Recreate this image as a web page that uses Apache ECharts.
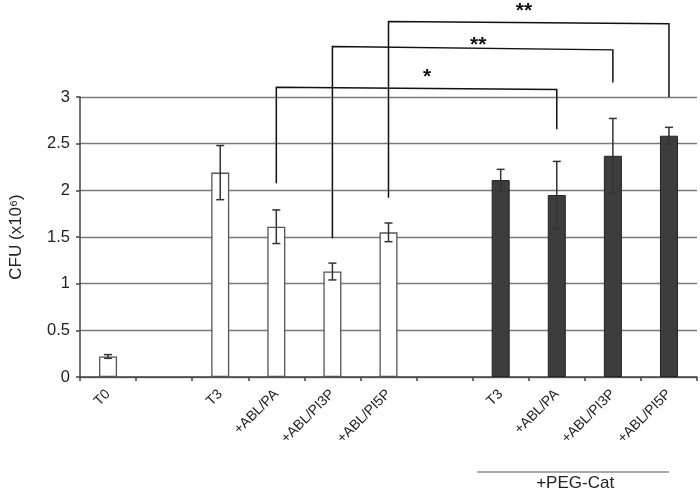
<!DOCTYPE html>
<html>
<head>
<meta charset="utf-8">
<script src="https://cdn.jsdelivr.net/npm/echarts@6/dist/echarts.min.js"></script>
<style>html,body{margin:0;padding:0;background:#fff}#c{width:700px;height:491px}</style>
</head>
<body>
<div id="c"></div>
<script>
// ---- data ----
var categories = ['T0', '', 'T3', '+ABL/PA', '+ABL/PI3P', '+ABL/PI5P', '', 'T3', '+ABL/PA', '+ABL/PI3P', '+ABL/PI5P'];
var controlValues = [0.22, null, 2.19, 1.61, 1.13, 1.55, null, null, null, null, null];
var controlErrors = [0.02, null, 0.29, 0.18, 0.09, 0.10, null, null, null, null, null];
var pegCatValues = [null, null, null, null, null, null, null, 2.11, 1.95, 2.37, 2.585];
var pegCatErrors = [null, null, null, null, null, null, null, 0.115, 0.36, 0.40, 0.09];
var yTicks = [0, 0.5, 1, 1.5, 2, 2.5, 3];
// significance brackets
var bracketFrom = [3, 4, 5];
var bracketTo = [8, 9, 10];
var bracketFromBottom = [2.075, 1.486, 1.92];
var bracketToBottom = [2.655, 3.155, 3.0];
var bracketTopLeft = [3.105, 3.54, 3.81];
var bracketTopRight = [3.08, 3.505, 3.785];
var bracketStarY = [3.27, 3.61, 3.975];
var bracketStarT = [0.538, 0.52, 0.483];
var bracketLabels = ['*', '**', '**'];
var groupLabel = '+PEG-Cat';

// ---- build ----
function errData(vals, errs) {
  var out = [];
  for (var i = 0; i < vals.length; i++) {
    if (vals[i] != null) out.push([i, vals[i] - errs[i], vals[i] + errs[i]]);
  }
  return out;
}
var allErr = errData(controlValues, controlErrors).concat(errData(pegCatValues, pegCatErrors));
var bracketData = bracketFrom.map(function (f, i) { return [i]; });
var FONT = 'Liberation Sans, Arial, sans-serif';

var chart = echarts.init(document.getElementById('c'));
chart.setOption({
  animation: false,
  grid: { left: 72, right: 3, top: 97, bottom: 114 },
  xAxis: {
    type: 'category',
    data: categories,
    axisLine: { lineStyle: { color: '#444', width: 1.5 } },
    axisTick: { show: true, interval: 0, length: 4, lineStyle: { color: '#444', width: 1.5 } },
    axisLabel: { interval: 0, rotate: 45, fontSize: 14, color: '#222', fontFamily: FONT, margin: 15 }
  },
  yAxis: {
    type: 'value',
    min: 0, max: 3, interval: 0.5,
    name: 'CFU (x10⁶)',
    nameLocation: 'middle',
    nameGap: 55,
    nameTextStyle: { fontSize: 17, color: '#222', fontFamily: FONT },
    axisLine: { show: true, lineStyle: { color: '#444', width: 1.5 } },
    axisTick: { show: true, length: 4, lineStyle: { color: '#444', width: 1.5 } },
    axisLabel: { fontSize: 16.5, color: '#222', fontFamily: FONT, margin: 10,
      formatter: function (v) { return yTicks.indexOf(v) >= 0 ? String(v) : ''; } },
    splitLine: { show: true, lineStyle: { color: '#7a7a7a', width: 1.3 } }
  },
  series: [
    {
      type: 'bar', data: controlValues, barWidth: 18, barGap: '-100%',
      itemStyle: { color: '#fff', borderColor: '#555', borderWidth: 1.3 }
    },
    {
      type: 'bar', data: pegCatValues, barWidth: 18, barGap: '-100%',
      itemStyle: { color: '#3d3d3d', borderColor: '#222', borderWidth: 1 }
    },
    {
      type: 'custom', data: allErr, z: 10,
      renderItem: function (params, api) {
        var x = api.coord([api.value(0), 0])[0];
        var lo = api.coord([api.value(0), api.value(1)])[1];
        var hi = api.coord([api.value(0), api.value(2)])[1];
        var hw = 4;
        var st = { stroke: '#333', lineWidth: 1.5 };
        return { type: 'group', children: [
          { type: 'line', shape: { x1: x, y1: lo, x2: x, y2: hi }, style: st },
          { type: 'line', shape: { x1: x - hw, y1: lo, x2: x + hw, y2: lo }, style: st },
          { type: 'line', shape: { x1: x - hw, y1: hi, x2: x + hw, y2: hi }, style: st }
        ] };
      }
    },
    {
      type: 'custom', data: bracketData, z: 12, clip: false,
      renderItem: function (params, api) {
        var i = api.value(0);
        var xl = api.coord([bracketFrom[i], 0])[0];
        var xr = api.coord([bracketTo[i], 0])[0];
        var yb1 = api.coord([bracketFrom[i], bracketFromBottom[i]])[1];
        var yb2 = api.coord([bracketTo[i], bracketToBottom[i]])[1];
        var yt1 = api.coord([bracketFrom[i], bracketTopLeft[i]])[1];
        var yt2 = api.coord([bracketTo[i], bracketTopRight[i]])[1];
        var ys = api.coord([bracketFrom[i], bracketStarY[i]])[1];
        var xs = xl + bracketStarT[i] * (xr - xl);
        return { type: 'group', children: [
          { type: 'polyline', shape: { points: [[xl, yb1], [xl, yt1], [xr, yt2], [xr, yb2]] }, style: { stroke: '#111', lineWidth: 1.5, fill: null } },
          { type: 'text', x: xs, y: ys + 5, style: { text: bracketLabels[i], fontSize: 21, fontWeight: 'bold', fill: '#111', align: 'center', verticalAlign: 'middle', fontFamily: FONT } }
        ] };
      }
    }
  ]
});

// group annotation under the PEG-Cat categories
var xStart = chart.convertToPixel({ xAxisIndex: 0 }, 7) - 56.7 / 2 + 5;
var xEnd = chart.convertToPixel({ xAxisIndex: 0 }, 10);
chart.setOption({
  graphic: [
    { type: 'line', shape: { x1: xStart, y1: 472, x2: xEnd, y2: 472 }, style: { stroke: '#555', lineWidth: 1.2 } },
    { type: 'text', x: (xStart + xEnd) / 2 + 2, y: 483, style: { text: groupLabel, fontSize: 17, fill: '#222', align: 'center', verticalAlign: 'middle', fontFamily: FONT } }
  ]
});
</script>
</body>
</html>
